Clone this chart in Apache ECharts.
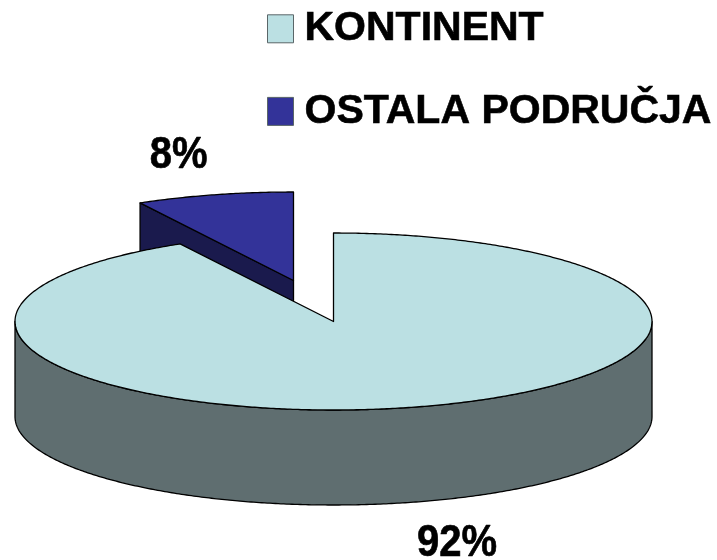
<!DOCTYPE html>
<html>
<head>
<meta charset="utf-8">
<style>html,body{margin:0;padding:0;background:#fff}#c{width:717px;height:560px}</style>
<script src="https://cdn.jsdelivr.net/npm/echarts@6/dist/echarts.min.js"></script>
</head>
<body>
<div id="c"></div>
<script>
var categories = ['KONTINENT', 'OSTALA PODRUČJA'];
var shareValues = [92, 8];
var percentLabels = ['92%', '8%'];
var topColors = ['#BBE0E3', '#333399'];
var wallColors = ['#5F6E70', '#1A1A4D'];

var FONT = '"Liberation Sans", Arial, sans-serif';
var pie = { cx: 333.5, cy: 321.5, rx: 318.5, ry: 88.5, depth: 95 };
var layouts = [
  { offset: [0, 0], label: [457, 543.5], z: 3 },
  { offset: [-40, -41], label: [178.7, 156], z: 2 }
];
var total = shareValues.reduce(function (a, b) { return a + b; }, 0);

function rim(o, deg, dy) {
  var r = deg * Math.PI / 180;
  return [pie.cx + o[0] + pie.rx * Math.sin(r), pie.cy + o[1] - pie.ry * Math.cos(r) + (dy || 0)];
}
function arc(o, a0, a1, dy) {
  var pts = [], n = Math.max(2, Math.ceil(Math.abs(a1 - a0) * 2));
  for (var i = 0; i <= n; i++) pts.push(rim(o, a0 + (a1 - a0) * i / n, dy));
  return pts;
}
function poly(points, fill) {
  return { type: 'polygon', shape: { points: points },
    style: { fill: fill, stroke: '#000', lineWidth: 1.3, lineJoin: 'round' }, silent: true };
}
function renderSlice(index) {
  return function (params, api) {
    var value = api.value(0), before = 0;
    for (var i = 0; i < index; i++) before += shareValues[i];
    // the slices run clockwise from 12 o'clock
    var a0 = before / total * 360, a1 = (before + value) / total * 360;
    var L = layouts[index], o = L.offset, d = pie.depth;
    var apex = [pie.cx + o[0], pie.cy + o[1]];
    var kids = [];
    // outer wall: the front half of the rim only
    var w0 = Math.max(a0, 90), w1 = Math.min(a1, 270);
    if (w1 > w0) {
      kids.push(poly(arc(o, w0, w1, 0).concat(arc(o, w1, w0, d)), wallColors[index]));
    }
    // radial cut faces that look toward the viewer
    [[a0, -1], [a1, 1]].forEach(function (f) {
      var s = Math.sin(f[0] * Math.PI / 180);
      if (s * f[1] > 0.001) {
        var p = rim(o, f[0]);
        kids.push(poly([apex, p, [p[0], p[1] + d], [apex[0], apex[1] + d]], wallColors[index]));
      }
    });
    // top face
    kids.push(poly([apex].concat(arc(o, a0, a1, 0)), topColors[index]));
    kids.push({ type: 'text', silent: true, x: L.label[0], y: L.label[1], scaleY: 1.1,
      style: { text: percentLabels[index], fill: '#000', stroke: '#000', lineWidth: 0.6,
        font: 'bold 40px ' + FONT, align: 'center', verticalAlign: 'middle' } });
    return { type: 'group', children: kids };
  };
}

var chart = echarts.init(document.getElementById('c'), null, { renderer: 'canvas' });
chart.setOption({
  animation: false,
  backgroundColor: '#fff',
  legend: {
    orient: 'vertical', left: 267, top: 8, padding: 0,
    itemWidth: 26, itemHeight: 28, itemGap: 41,
    icon: 'rect', selectedMode: false,
    data: categories,
    itemStyle: { borderColor: '#5A6668', borderWidth: 1 },
    textStyle: { fontFamily: FONT, fontWeight: 'bold', fontSize: 41, color: '#000',
      textBorderColor: '#000', textBorderWidth: 0.6, padding: [0, 0, 0, 6], lineHeight: 41 }
  },
  series: categories.map(function (name, i) {
    return {
      type: 'custom', name: name, coordinateSystem: 'none', z: layouts[i].z,
      itemStyle: { color: topColors[i] },
      renderItem: renderSlice(i),
      data: [[shareValues[i]]]
    };
  })
});
</script>
</body>
</html>
